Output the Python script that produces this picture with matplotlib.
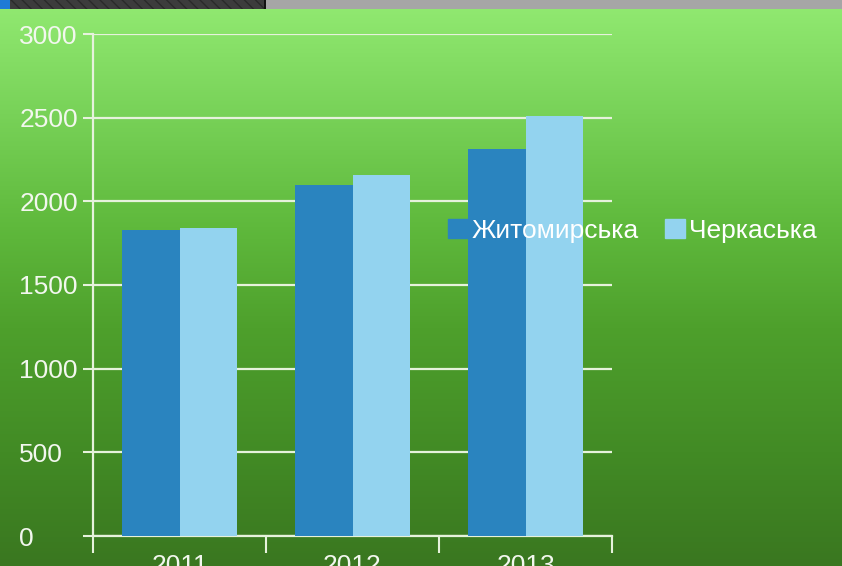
import numpy as np
import matplotlib
matplotlib.use("Agg")
import matplotlib.pyplot as plt
from matplotlib.colors import LinearSegmentedColormap
from matplotlib.patches import Rectangle, Patch

plt.rcParams["font.family"] = ["Liberation Sans", "DejaVu Sans"]

years = ["2011", "2012", "2013"]
series_names = ["Житомирська", "Черкаська"]
zhytomyr = [1829, 2096, 2315]
cherkasy = [1839, 2158, 2507]
y_ticks = [0, 500, 1000, 1500, 2000, 2500, 3000]

W, H = 842, 566
fig = plt.figure(figsize=(W / 100, H / 100), dpi=100)

# background gradient
bg = fig.add_axes([0, 0, 1, 1], zorder=0)
bg_cmap = LinearSegmentedColormap.from_list(
    "bg",
    [(0.0, "#92ea72"), (0.2, "#78d258"), (0.4, "#5fb93c"),
     (0.58, "#4ea02c"), (0.8, "#428b25"), (1.0, "#3a7720")],
)
grad = np.linspace(0, 1, 256).reshape(-1, 1)
bg.imshow(grad, aspect="auto", cmap=bg_cmap, extent=[0, 1, 0, 1], origin="upper")
bg.set_xlim(0, 1)
bg.set_ylim(0, 1)
bg.axis("off")

# top strip
strip_h = 9 / H
fig.patches.append(Rectangle((0, 1 - strip_h), 1, strip_h, transform=fig.transFigure,
                             facecolor="#a6a6a6", edgecolor="none", zorder=1))
fig.patches.append(Rectangle((10 / W, 1 - strip_h), 256 / W, strip_h, transform=fig.transFigure,
                             facecolor="#3c3c3c", edgecolor="#2a2a2a", hatch="\\\\\\",
                             linewidth=0, zorder=2))
fig.patches.append(Rectangle((0, 1 - strip_h), 10 / W, strip_h, transform=fig.transFigure,
                             facecolor="#1f7ad6", edgecolor="none", zorder=3))
fig.patches.append(Rectangle((264 / W, 1 - strip_h), 2 / W, strip_h, transform=fig.transFigure,
                             facecolor="#111111", edgecolor="none", zorder=3))

line_col = "#e6f2dc"
text_col = "#f2f7ee"
ax = fig.add_axes([93 / W, (H - 536) / H, (612 - 93) / W, (536 - 34) / H], zorder=2)
ax.patch.set_visible(False)

x = np.arange(len(years))
bw = 1 / 3
ax.bar(x - bw / 2, zhytomyr, width=bw, color="#2a84bf", label=series_names[0], zorder=3)
ax.bar(x + bw / 2, cherkasy, width=bw, color="#93d3ef", label=series_names[1], zorder=3)

ax.set_xlim(-0.5, len(years) - 0.5)
ax.set_ylim(0, 3000)
ax.set_yticks(y_ticks)
ax.set_yticklabels([str(v) for v in y_ticks])
ax.yaxis.grid(True, color=line_col, linewidth=1.6, zorder=1)
ax.set_axisbelow(True)

ax.set_xticks(x)
ax.set_xticklabels(years)
ax.set_xticks(np.arange(-0.5, len(years), 1), minor=True)
ax.tick_params(axis="x", which="major", length=0, pad=13, labelsize=19, labelcolor=text_col)
ax.tick_params(axis="x", which="minor", length=12, width=1.5, color=line_col, direction="out")
ax.tick_params(axis="y", length=7, width=1.5, color=line_col, labelsize=19,
               labelcolor=text_col, pad=46)
for lab in ax.get_yticklabels():
    lab.set_horizontalalignment("left")

for side in ["top", "right"]:
    ax.spines[side].set_visible(False)
for side in ["left", "bottom"]:
    ax.spines[side].set_color(line_col)
    ax.spines[side].set_linewidth(1.6)

handles = [Patch(color="#2a84bf"), Patch(color="#93d3ef")]
leg = fig.legend(handles, series_names, loc="center left",
                 bbox_to_anchor=(448 / W, (H - 231) / H), ncol=2, frameon=False,
                 borderpad=0, borderaxespad=0,
                 handlelength=0.75, handleheight=0.75, handletextpad=0.15,
                 columnspacing=1.0, fontsize=19, labelcolor="white")
leg.set_zorder(5)

fig.savefig("out.png", dpi=100)
